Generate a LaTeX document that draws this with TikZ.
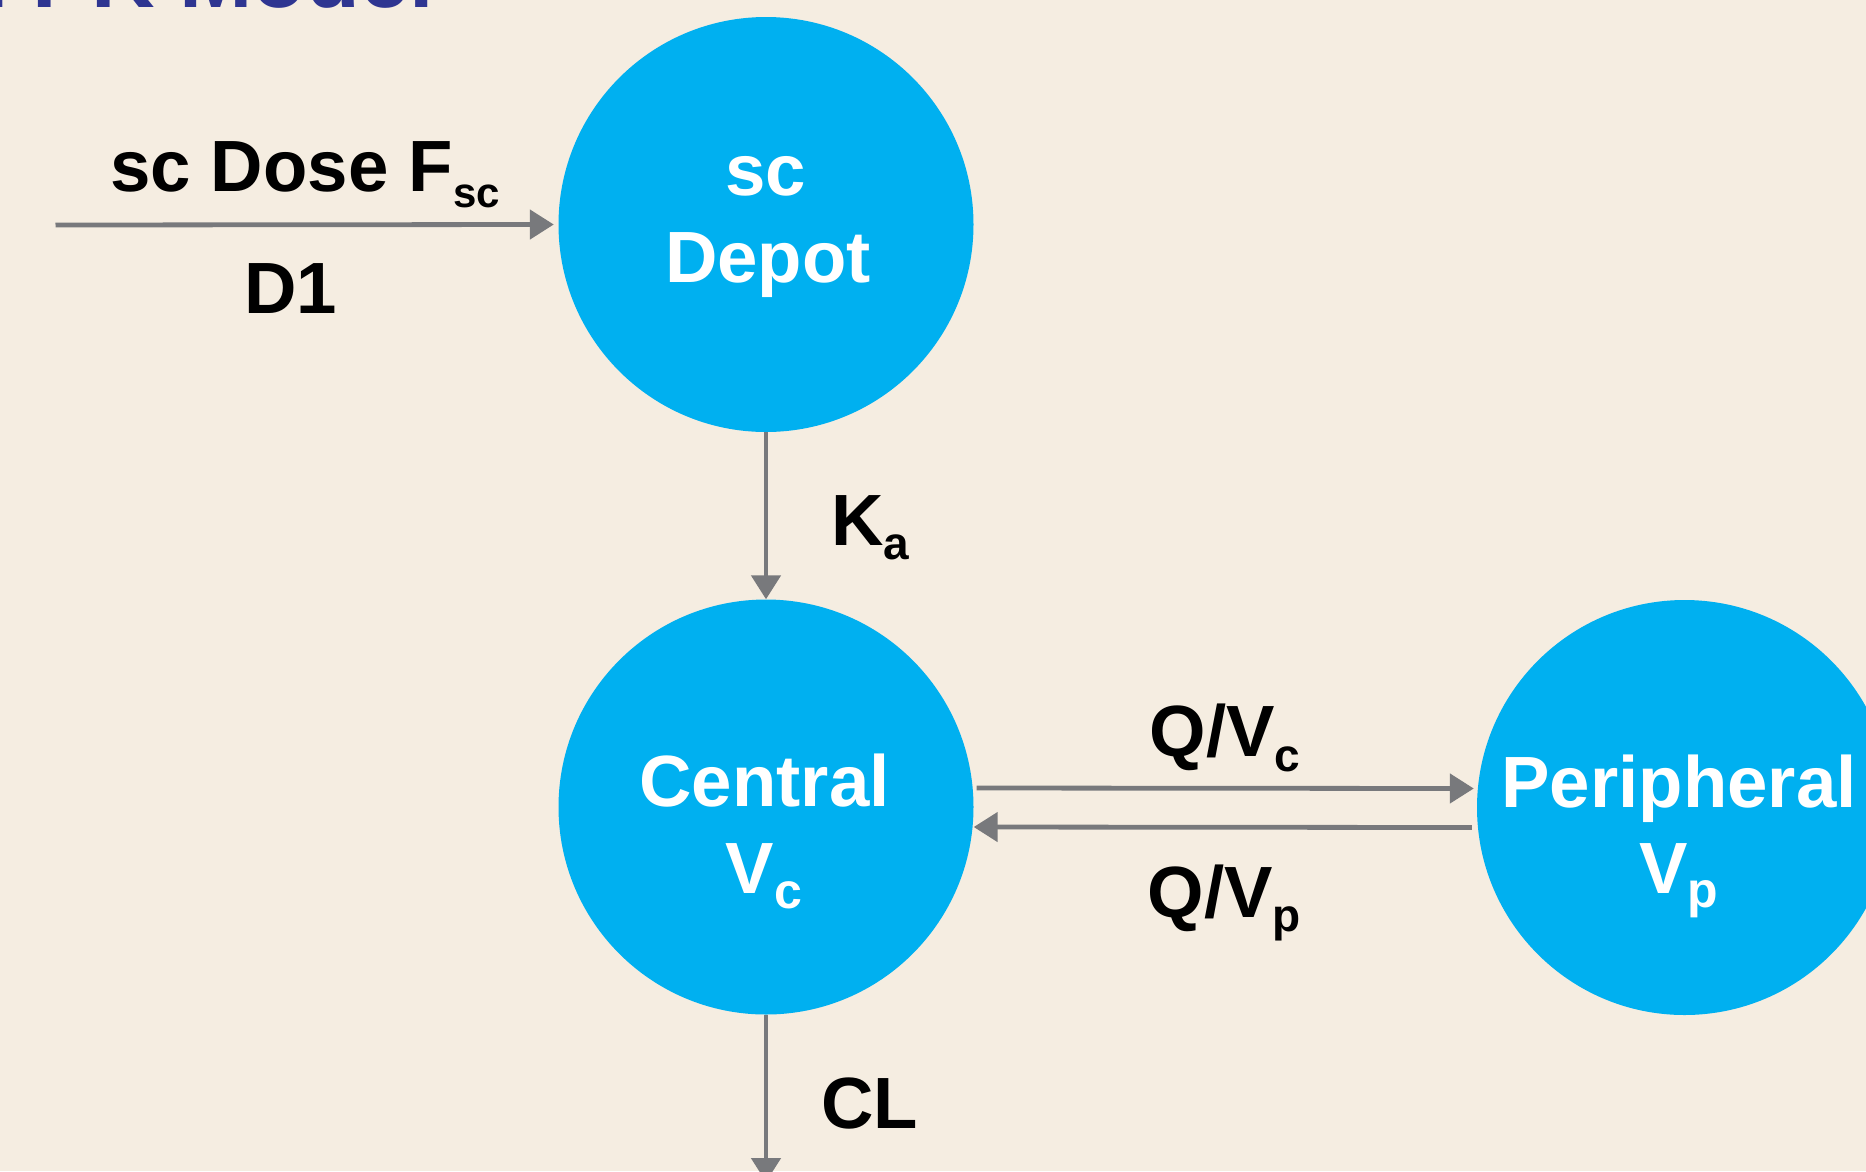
\documentclass[tikz,border=0pt]{standalone}
\usepackage{fontspec}
\setmainfont{Liberation Sans}
\usetikzlibrary{arrows.meta}
\definecolor{bgc}{RGB}{245,237,225}
\definecolor{cyanc}{RGB}{0,176,240}
\definecolor{arrc}{RGB}{120,121,124}
\definecolor{titlec}{RGB}{46,53,145}
\newcommand\mainsz{\fontsize{72.6pt}{87pt}\selectfont\bfseries}
\newcommand\subtxt[3]{\raisebox{-#1pt}{\fontsize{#2pt}{#2pt}\selectfont #3}}
\begin{document}
\begin{tikzpicture}[x=1pt,y=-1pt,
  comp/.style={circle,fill=cyanc,minimum size=415pt,inner sep=0pt,draw=none},
  lbl/.style={anchor=base,inner sep=0pt,font=\mainsz,text=black},
  wlbl/.style={lbl,text=white},
  arr/.style={draw=arrc,line width=4.8pt,-{Triangle[width=29pt,length=24pt]}}]
\useasboundingbox (0,0) rectangle (1866,1171);
\fill[bgc] (0,0) rectangle (1866,1171);
% title (mostly cut off at the top)
\node[anchor=base east,inner sep=0pt,text=titlec,font=\fontsize{88pt}{100pt}\selectfont\bfseries] (title) at (434,7.5) {Population PK Model};
% compartments
\node[comp] (depot) at (766,224.5) {};
\node[comp] (central) at (766,807) {};
\node[comp] (periph) at (1684.5,807.5) {};
% compartment labels
\node[wlbl] (depotA) at (766,195) {sc};
\node[wlbl] (depotB) at (768,282) {Depot};
\node[wlbl] (centralA) at (764.5,806) {Central};
\node[wlbl] (centralB) at (764,893) {V\subtxt{15}{50}{c}};
\node[wlbl] (periphA) at (1679,807) {Peripheral};
\node[wlbl] (periphB) at (1679,893) {V\subtxt{14}{50}{p}};
% connectors
\coordinate (dosein) at (55.5,225);
\coordinate (clout) at (766,1182);
\draw[arr] (dosein) -- ([xshift=-4.5pt]depot.west);
\draw[arr] (depot.south) -- (central.north);
\draw[arr] ([xshift=3pt,yshift=19pt]central.east) -- ([xshift=-3pt,yshift=19pt]periph.west);
\draw[arr] ([xshift=-5pt,yshift=-20pt]periph.west) -- ([yshift=-20pt]central.east);
\draw[arr] (central.south) -- (clout);
% connector labels
\node[lbl] (dose) at (305,191) {sc Dose F\subtxt{16}{42}{sc}};
\node[lbl] (d1) at (290.5,313) {D1};
\node[lbl] (ka) at (870,545) {K\subtxt{14}{46}{a}};
\node[lbl] (qvc) at (1225,756) {Q/V\subtxt{15}{46}{c}};
\node[lbl] (qvp) at (1224.5,917) {Q/V\subtxt{14}{46}{p}};
\node[lbl] (cl) at (869.5,1128) {CL};
\end{tikzpicture}
\end{document}
